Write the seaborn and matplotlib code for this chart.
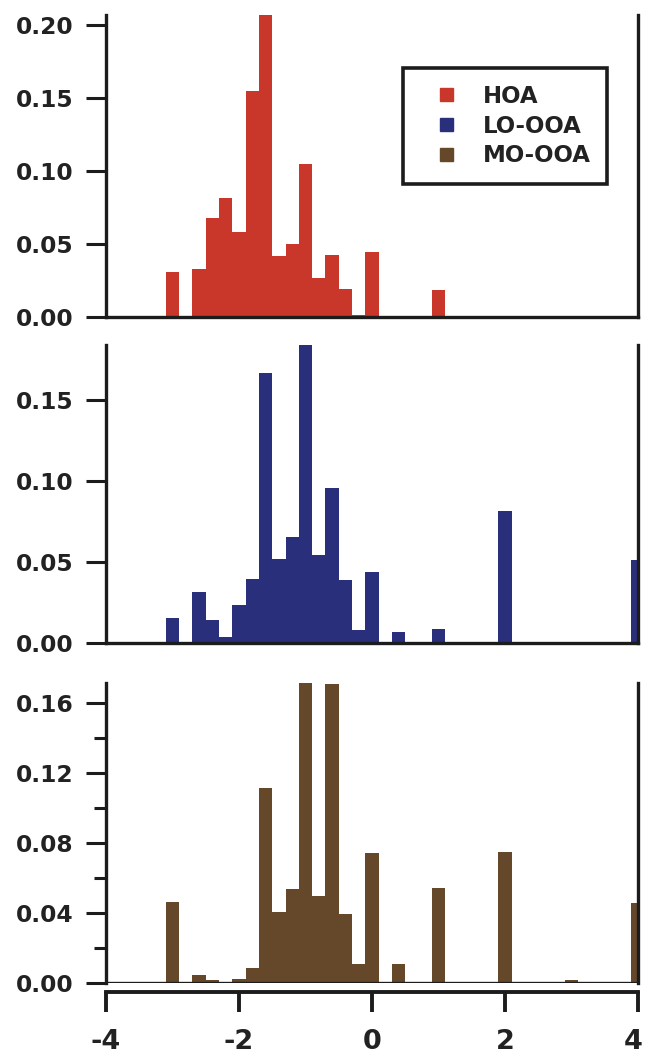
import numpy as np
import pandas as pd
import matplotlib
matplotlib.use("Agg")
import matplotlib.pyplot as plt
import matplotlib.patches as mpatches
import matplotlib.transforms as mtransforms
from matplotlib.legend_handler import HandlerPatch
from matplotlib.ticker import FixedLocator
import seaborn as sns

# Normalised frequency per 0.2-wide bin (bin centres on the x axis)
hoa_centers = [-3.0, -2.6, -2.4, -2.2, -2.0, -1.8, -1.6, -1.4, -1.2, -1.0,
               -0.8, -0.6, -0.4, -0.2, 0.0, 1.0]
hoa_freq = [0.0306, 0.033, 0.0678, 0.0819, 0.0584, 0.155, 0.212, 0.0419,
            0.050, 0.1047, 0.0264, 0.0428, 0.0193, 0.0012, 0.0447, 0.0184]

lo_centers = [-3.0, -2.6, -2.4, -2.2, -2.0, -1.8, -1.6, -1.4, -1.2, -1.0,
              -0.8, -0.6, -0.4, -0.2, 0.0, 0.4, 1.0, 2.0, 3.0, 4.0]
lo_freq = [0.0153, 0.0316, 0.0139, 0.0035, 0.0233, 0.0396, 0.167, 0.0518,
           0.0653, 0.1845, 0.0543, 0.0959, 0.0392, 0.0082, 0.0439, 0.0067,
           0.0088, 0.0814, 0.0008, 0.0514]

mo_centers = [-3.0, -2.6, -2.4, -2.0, -1.8, -1.6, -1.4, -1.2, -1.0, -0.8,
              -0.6, -0.4, -0.2, 0.0, 0.4, 1.0, 2.0, 3.0, 4.0]
mo_freq = [0.0464, 0.0048, 0.0015, 0.0023, 0.0083, 0.1115, 0.0406, 0.0535,
           0.1725, 0.0497, 0.171, 0.0396, 0.0106, 0.0744, 0.0106, 0.0541,
           0.075, 0.0019, 0.0458]

series_names = ["HOA", "LO-OOA", "MO-OOA"]
series_colors = ["#C9372B", "#2A2F7C", "#65472A"]

y_limits = [0.207, 0.184, 0.1715]
y_major = [[0.00, 0.05, 0.10, 0.15, 0.20],
           [0.00, 0.05, 0.10, 0.15],
           [0.00, 0.04, 0.08, 0.12, 0.16]]
y_minor = [[], [], [0.02, 0.06, 0.10, 0.14]]
x_ticks = [-4, -2, 0, 2, 4]
x_tick_labels = ["-4", "-2", "0", "2", "4"]

frames = [
    pd.DataFrame({"center": hoa_centers, "freq": hoa_freq}),
    pd.DataFrame({"center": lo_centers, "freq": lo_freq}),
    pd.DataFrame({"center": mo_centers, "freq": mo_freq}),
]

sns.set_theme(style="white")
plt.rcParams["font.family"] = ["DejaVu Sans"]
plt.rcParams["font.weight"] = "bold"
plt.rcParams["axes.unicode_minus"] = False

ink = "#1c1c1c"
spine_lw = 2.4

W, H = 645, 1057
fig = plt.figure(figsize=(W / 100, H / 100), dpi=100)

left_px, right_px = 106, 638
panel_px = [(15, 317), (345, 643), (683, 983)]

axes = []
for (top_px, bot_px) in panel_px:
    ax = fig.add_axes([left_px / W, (H - bot_px) / H,
                       (right_px - left_px) / W, (bot_px - top_px) / H])
    axes.append(ax)

for i, (ax, df) in enumerate(zip(axes, frames)):
    sns.histplot(data=df, x="center", weights="freq", binwidth=0.2,
                 binrange=(-4.1, 4.1), stat="count", element="bars",
                 color=series_colors[i], alpha=1, linewidth=0, ax=ax)
    ax.set_xlim(-4, 4)
    ax.set_ylim(0, y_limits[i])
    ax.set_xlabel("")
    ax.set_ylabel("")
    ax.grid(False)

    for side in ["left", "right", "bottom"]:
        ax.spines[side].set_visible(True)
        ax.spines[side].set_color(ink)
        ax.spines[side].set_linewidth(spine_lw)
    ax.spines["top"].set_visible(False)

    ax.yaxis.set_major_locator(FixedLocator(y_major[i]))
    ax.set_yticklabels([f"{v:.2f}" for v in y_major[i]])
    ax.yaxis.set_minor_locator(FixedLocator(y_minor[i]))
    ax.tick_params(axis="y", which="major", direction="out", length=14.5,
                   width=2.2, color=ink, left=True, right=False, pad=9,
                   labelsize=16.8, labelcolor="#222222")
    ax.tick_params(axis="y", which="minor", direction="out", length=8.5,
                   width=2.2, color=ink, left=True, right=False)

    if i < 2:
        ax.tick_params(axis="x", which="both", bottom=False,
                       labelbottom=False)
    else:
        # zero baseline inside the panel, x axis set slightly below it
        ax.axhline(0, color=ink, lw=spine_lw, zorder=3)
        ax.spines["bottom"].set_position(("outward", 6.5))
        ax.spines["bottom"].set_linewidth(2.8)
        ax.set_xticks(x_ticks, labels=x_tick_labels)
        ax.tick_params(axis="x", which="major", direction="out", length=14.5,
                       width=2.8, color=ink, bottom=True, pad=12,
                       labelsize=19.5, labelcolor="#222222")
        # nudge the last label left so it stays inside the canvas
        last = ax.get_xticklabels()[-1]
        last.set_transform(last.get_transform() +
                           mtransforms.ScaledTranslation(-5 / 100, 0,
                                                         fig.dpi_scale_trans))


def square_handle(legend, orig_handle, xdescent, ydescent, width, height,
                  fontsize):
    s = 0.57 * fontsize
    return mpatches.Rectangle((-xdescent + width - s,
                               -ydescent + (height - s) / 2), s, s)


handles = [mpatches.Patch(color=c, label=n)
           for n, c in zip(series_names, series_colors)]
leg = axes[0].legend(handles=handles, loc="upper left",
                     bbox_to_anchor=(0.558, 0.824),
                     bbox_transform=axes[0].transAxes, borderaxespad=0,
                     frameon=True, fancybox=False, framealpha=1,
                     edgecolor=ink, prop=dict(weight="bold", size=16.5),
                     borderpad=0.72, labelspacing=0.3, handlelength=1.45,
                     handleheight=0.7, handletextpad=1.3,
                     handler_map={mpatches.Patch:
                                  HandlerPatch(patch_func=square_handle)})
leg.get_frame().set_linewidth(2.6)
for t in leg.get_texts():
    t.set_color("#222222")

fig.savefig("out.png", dpi=100)
